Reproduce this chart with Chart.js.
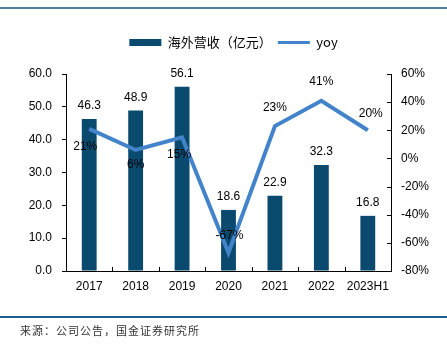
<!DOCTYPE html>
<html>
<head>
<meta charset="utf-8">
<script src="https://cdn.jsdelivr.net/npm/chart.js@4.4.0/dist/chart.umd.min.js"></script>
<style>
    html, body { margin: 0; padding: 0; background: #fff; }
    #wrap { position: relative; width: 447px; height: 347px; overflow: hidden; }
    #chart { position: absolute; left: 0; top: 0; }
    .rule { position: absolute; left: 0; width: 447px; }
    #topRule { top: 7px; height: 2px; background: #4f8099; }
    #bottomRule { top: 316px; height: 2px; background: #1d5f8c; }
    #source {
        position: absolute; left: 20px; top: 322px;
        font-family: "Noto Sans CJK SC", sans-serif; font-size: 11px; color: #333;
        letter-spacing: 1px;
    }
</style>
</head>
<body>
<div id="wrap">
    <div class="rule" id="topRule"></div>
    <canvas id="chart" width="447" height="347"></canvas>
    <div class="rule" id="bottomRule"></div>
    <div id="source">来源：公司公告，国金证券研究所</div>
</div>
<script>
// Overseas revenue (100m CNY) and year-on-year growth
const years = ['2017', '2018', '2019', '2020', '2021', '2022', '2023H1'];
const overseasRevenue = [46.3, 48.9, 56.1, 18.6, 22.9, 32.3, 16.8];
const yoyGrowth = [21, 6, 15, -67, 23, 41, 20];
const revenueTicks = [0, 10, 20, 30, 40, 50, 60];
const yoyTicks = [-80, -60, -40, -20, 0, 20, 40, 60];

const BAR_COLOR = '#0b4a6f';
const LINE_COLOR = '#4283c9';
const FONT = '"Liberation Sans", Arial, sans-serif';

// label offsets for the yoy points (dx, dy from the point)
const yoyLabelOffsets = [[-4, 18], [0, 15], [-3, 17], [1, -17], [0, -18], [0, -19], [3, -17]];

const labelsPlugin = {
    id: 'valueLabels',
    afterDatasetsDraw(chart) {
        const ctx = chart.ctx;
        ctx.save();
        ctx.font = '12px ' + FONT;
        ctx.fillStyle = '#000';
        ctx.textAlign = 'center';
        ctx.textBaseline = 'middle';
        chart.getDatasetMeta(0).data.forEach((bar, i) => {
            ctx.fillText(overseasRevenue[i].toFixed(1), bar.x, bar.y - 13);
        });
        chart.getDatasetMeta(1).data.forEach((pt, i) => {
            const off = yoyLabelOffsets[i];
            ctx.fillText(yoyGrowth[i] + '%', pt.x + off[0], pt.y + off[1]);
        });
        ctx.restore();
    }
};

// short tick marks pointing into the plot on the right and bottom axes
const innerTicksPlugin = {
    id: 'innerTicks',
    afterDraw(chart) {
        const ctx = chart.ctx;
        const area = chart.chartArea;
        const yR = chart.scales.y1;
        const x = chart.scales.x;
        ctx.save();
        ctx.strokeStyle = '#000';
        ctx.lineWidth = 1;
        ctx.beginPath();
        yoyTicks.forEach(v => {
            const py = Math.round(yR.getPixelForValue(v)) + 0.5;
            ctx.moveTo(area.right, py);
            ctx.lineTo(area.right - 4, py);
        });
        for (let i = 1; i < years.length; i++) {
            const px = Math.round((x.getPixelForValue(i - 1) + x.getPixelForValue(i)) / 2) + 0.5;
            ctx.moveTo(px, area.bottom);
            ctx.lineTo(px, area.bottom - 4);
        }
        ctx.stroke();
        ctx.restore();
    }
};

// extra room below the legend, and nudge it a little to the right
const legendGapPlugin = {
    id: 'legendGap',
    afterInit(chart) {
        const legend = chart.legend;
        if (!legend) return;
        const fit = legend.fit;
        legend.fit = function() {
            fit.call(this);
            this.height += 15;
        };
        const draw = legend.draw;
        legend.draw = function() {
            this.ctx.save();
            this.ctx.translate(8, 0);
            draw.call(this);
            this.ctx.restore();
        };
    }
};

function createOverseasChart() {
    const ctx = document.getElementById('chart');
    if (!ctx) return;
    new Chart(ctx, {
        data: {
            labels: years,
            datasets: [{
                type: 'bar',
                label: '海外营收（亿元）',
                data: overseasRevenue,
                backgroundColor: BAR_COLOR,
                yAxisID: 'y',
                categoryPercentage: 1,
                barPercentage: 0.32,
                order: 2
            }, {
                type: 'line',
                label: 'yoy',
                data: yoyGrowth,
                borderColor: LINE_COLOR,
                backgroundColor: LINE_COLOR,
                borderWidth: 4,
                pointRadius: 0,
                tension: 0,
                yAxisID: 'y1',
                order: 1
            }]
        },
        options: {
            responsive: false,
            animation: false,
            devicePixelRatio: 1,
            layout: {
                padding: { top: 30, left: 10, right: 6, bottom: 46 }
            },
            plugins: {
                legend: {
                    position: 'top',
                    labels: {
                        usePointStyle: true,
                        pointStyleWidth: 32,
                        boxHeight: 7,
                        padding: 6,
                        color: '#000',
                        font: { family: '"Noto Sans CJK SC", ' + FONT, size: 13 },
                        generateLabels(chart) {
                            return chart.data.datasets.map((ds, i) => ({
                                text: ds.label,
                                datasetIndex: i,
                                fillStyle: i === 0 ? BAR_COLOR : LINE_COLOR,
                                strokeStyle: i === 0 ? BAR_COLOR : LINE_COLOR,
                                lineWidth: i === 0 ? 0 : 3,
                                pointStyle: i === 0 ? 'rect' : 'line',
                                fontColor: '#000'
                            }));
                        }
                    }
                },
                tooltip: { enabled: false }
            },
            scales: {
                x: {
                    offset: true,
                    grid: { display: false, drawTicks: false },
                    border: { display: true, color: '#000', width: 1 },
                    ticks: { color: '#000', font: { family: FONT, size: 12 }, padding: 8, maxRotation: 0 },
                    afterFit(scale) { scale.height = 30; }
                },
                y: {
                    position: 'left',
                    min: 0,
                    max: 60,
                    afterBuildTicks(scale) { scale.ticks = revenueTicks.map(v => ({ value: v })); },
                    grid: { drawOnChartArea: false, tickLength: 4, color: '#000' },
                    border: { display: true, color: '#000', width: 1 },
                    ticks: {
                        color: '#000',
                        font: { family: FONT, size: 12 },
                        padding: 10,
                        callback: v => Number(v).toFixed(1)
                    },
                    afterFit(scale) { scale.width = 56; }
                },
                y1: {
                    position: 'right',
                    min: -80,
                    max: 60,
                    afterBuildTicks(scale) { scale.ticks = yoyTicks.map(v => ({ value: v })); },
                    grid: { drawOnChartArea: false, drawTicks: false },
                    border: { display: true, color: '#000', width: 1 },
                    ticks: {
                        color: '#000',
                        font: { family: FONT, size: 12 },
                        padding: 10,
                        callback: v => v + '%'
                    },
                    afterFit(scale) { scale.width = 50; }
                }
            }
        },
        plugins: [labelsPlugin, innerTicksPlugin, legendGapPlugin]
    });
}

createOverseasChart();
</script>
</body>
</html>
